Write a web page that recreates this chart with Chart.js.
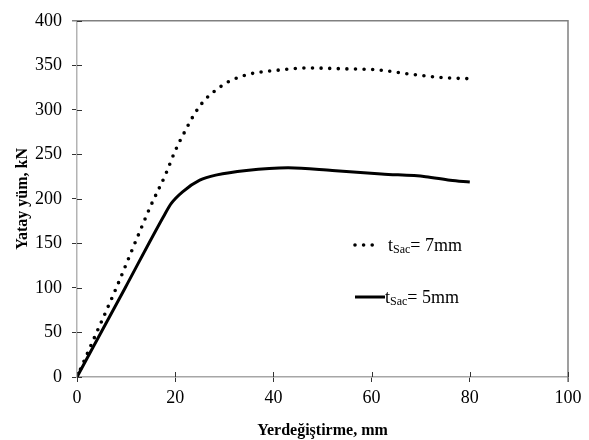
<!DOCTYPE html>
<html>
<head>
<meta charset="utf-8">
<script src="https://cdn.jsdelivr.net/npm/chart.js@4.4.1/dist/chart.umd.min.js"></script>
<style>
    body { margin: 0; background: #fff; }
    #wrap { width: 589px; height: 440px; }
</style>
</head>
<body>
<div id="wrap"><canvas id="loadChart" width="589" height="440"></canvas></div>
<script>
// Displacement (mm) and lateral load (kN)
const disp7 = [0, 4, 8, 12, 15, 18, 20, 22, 24, 26, 28.5, 31, 35, 40, 47, 55, 61, 68, 75, 80];
const load7 = [0, 50, 100, 153, 192, 227, 254, 276, 296, 311, 323, 332, 340, 344, 347, 346, 345, 340, 336, 335];

const disp5 = [0, 9.8, 17.6, 19.2, 21.5, 25, 28.5, 34.5, 43, 52, 62, 71, 76, 80];
const load5 = [0, 100, 180, 195, 208, 221, 227, 232, 235, 232, 228, 225, 221, 219];

const xTicks = [0, 20, 40, 60, 80, 100];
const yTicks = [0, 50, 100, 150, 200, 250, 300, 350, 400];

const serif = 'Liberation Serif, Times New Roman, serif';

const toPoints = (xs, ys) => xs.map((x, i) => ({ x: x, y: ys[i] }));

// Tick marks that also cross into the plot, plus the top/right frame
const frameAndTicks = {
    id: 'frameAndTicks',
    afterDatasetsDraw(chart) {
        const { ctx, chartArea, scales } = chart;
        ctx.save();
        ctx.strokeStyle = '#808080';
        ctx.lineWidth = 1.5;
        ctx.beginPath();
        ctx.moveTo(chartArea.left - 5, chartArea.top);
        ctx.lineTo(chartArea.right, chartArea.top);
        ctx.lineTo(chartArea.right, chartArea.bottom + 5);
        ctx.stroke();

        ctx.strokeStyle = '#333';
        ctx.lineWidth = 1;
        ctx.beginPath();
        xTicks.forEach(v => {
            const px = Math.round(scales.x.getPixelForValue(v)) + 0.5;
            ctx.moveTo(px, chartArea.bottom);
            ctx.lineTo(px, chartArea.bottom - 5);
        });
        yTicks.forEach(v => {
            const py = Math.round(scales.y.getPixelForValue(v)) + 0.5;
            ctx.moveTo(chartArea.left, py);
            ctx.lineTo(chartArea.left + 5, py);
        });
        ctx.stroke();
        ctx.restore();
    }
};

// Legend with the subscript in "tSac"
const subLegend = {
    id: 'subLegend',
    afterDraw(chart) {
        const ctx = chart.ctx;
        const items = [
            { ds: chart.data.datasets[0], x0: 355, x1: 379, textX: 388, base: 251, value: '= 7mm' },
            { ds: chart.data.datasets[1], x0: 355, x1: 385, textX: 385, base: 303, value: '= 5mm' }
        ];
        ctx.save();
        items.forEach(it => {
            const midY = it.base - 6;
            ctx.strokeStyle = '#000';
            ctx.lineWidth = it.ds.borderWidth;
            ctx.lineCap = it.ds.borderCapStyle || 'butt';
            ctx.setLineDash(it.ds.borderDash || []);
            ctx.beginPath();
            ctx.moveTo(it.x0, midY);
            ctx.lineTo(it.x1, midY);
            ctx.stroke();
            ctx.setLineDash([]);

            ctx.fillStyle = '#000';
            ctx.textBaseline = 'alphabetic';
            ctx.font = '18px ' + serif;
            ctx.fillText('t', it.textX, it.base);
            let x = it.textX + ctx.measureText('t').width;
            ctx.font = '12px ' + serif;
            ctx.fillText('Sac', x, it.base + 2);
            x += ctx.measureText('Sac').width;
            ctx.font = '18px ' + serif;
            ctx.fillText(it.value, x, it.base);
        });
        ctx.restore();
    }
};

const ctx = document.getElementById('loadChart').getContext('2d');
const loadChart = new Chart(ctx, {
    type: 'line',
    data: {
        datasets: [{
            label: 'tSac= 7mm',
            data: toPoints(disp7, load7),
            borderColor: '#000',
            borderWidth: 3.6,
            borderDash: [0, 8.6],
            borderCapStyle: 'round',
            pointRadius: 0,
            cubicInterpolationMode: 'monotone',
            fill: false
        }, {
            label: 'tSac= 5mm',
            data: toPoints(disp5, load5),
            borderColor: '#000',
            borderWidth: 3,
            pointRadius: 0,
            cubicInterpolationMode: 'monotone',
            fill: false
        }]
    },
    options: {
        responsive: false,
        animation: false,
        devicePixelRatio: 1,
        layout: { padding: { top: 10, right: 21, left: 0, bottom: 0 } },
        plugins: {
            legend: { display: false },
            tooltip: { enabled: false }
        },
        scales: {
            x: {
                type: 'linear',
                min: 0,
                max: 100,
                afterFit: scale => { scale.height = 63; },
                afterBuildTicks: scale => { scale.ticks = xTicks.map(v => ({ value: v })); },
                ticks: { color: '#000', font: { family: serif, size: 18 }, padding: 5, maxRotation: 0 },
                grid: { drawOnChartArea: false, drawTicks: true, tickLength: 5, color: '#333' },
                border: { color: '#a6a6a6', width: 1.5 },
                title: {
                    display: true,
                    text: 'Yerdeğiştirme, mm',
                    color: '#000',
                    font: { family: serif, size: 16, weight: 'bold' },
                    padding: { top: 6, bottom: 0 }
                }
            },
            y: {
                min: 0,
                max: 400,
                afterFit: scale => { scale.width = 77; },
                afterBuildTicks: scale => { scale.ticks = yTicks.map(v => ({ value: v })); },
                ticks: { color: '#000', font: { family: serif, size: 18 }, padding: 10 },
                grid: { drawOnChartArea: false, drawTicks: true, tickLength: 5, color: '#333' },
                border: { color: '#b3b3b3', width: 1.5 },
                title: {
                    display: true,
                    text: 'Yatay yüm, kN',
                    color: '#000',
                    font: { family: serif, size: 16, weight: 'bold' },
                    padding: { top: 13, bottom: 0 }
                }
            }
        }
    },
    plugins: [frameAndTicks, subLegend]
});
</script>
</body>
</html>
